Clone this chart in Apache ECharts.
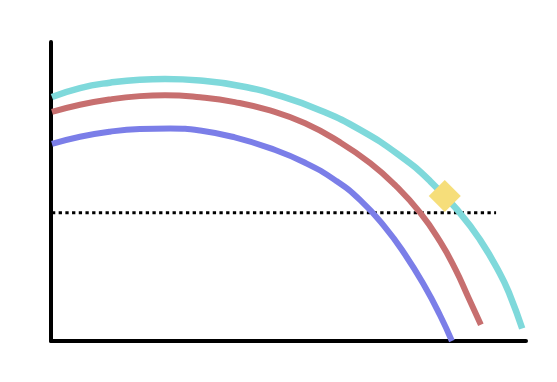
<!DOCTYPE html>
<html>
<head>
<meta charset="utf-8">
<script src="https://cdn.jsdelivr.net/npm/echarts@6/dist/echarts.min.js"></script>
<style>
html,body{margin:0;padding:0;background:#fff;}
#chart{width:557px;height:382px;}
</style>
</head>
<body>
<div id="chart"></div>
<script>
// Curve data (flow, head) in arbitrary units
var cyanCurve = [[0.2,81.6],[6.1,84.6],[12.4,86.4],[18.7,87.4],[24.0,87.6],[31.4,87.1],[39.8,85.3],[48.2,82.0],[56.6,77.2],[65.1,70.6],[73.5,61.9],[79.8,53.5],[86.1,42.8],[90.3,33.9],[94.5,22.6],[96.6,15.4],[99.2,4.2]];
var redCurve = [[0.2,76.6],[6.1,79.0],[12.4,80.8],[18.7,81.9],[24.0,82.2],[31.4,81.5],[38.7,79.9],[46.1,77.1],[53.5,72.8],[60.8,66.5],[67.2,59.5],[72.4,52.2],[77.7,42.9],[81.9,33.3],[85.1,24.1],[87.8,14.8],[90.5,5.4]];
var blueCurve = [[0.2,65.9],[6.1,68.3],[12.4,70.0],[18.7,70.9],[25.1,71.1],[31.4,70.4],[38.7,68.1],[46.1,64.5],[53.5,59.6],[59.8,53.8],[65.1,47.1],[70.3,38.1],[74.5,29.0],[78.7,18.2],[81.9,8.6],[84.4,0]];
var dottedLine = [[0.2,42.9],[93.7,42.9]];
var operatingPoint = [[82.9,48.5]];

var chart = echarts.init(document.getElementById('chart'), null, {renderer:'canvas'});
var lineSeries = function(data, color, width){
  return {type:'line', data:data, smooth:0.5, showSymbol:false, symbol:'none', clip:false,
    lineStyle:{color:color, width:width, cap:'butt'}, animation:false, silent:true};
};
chart.setOption({
  backgroundColor:'#ffffff',
  animation:false,
  grid:{left:51, right:31, top:42, bottom:41},
  xAxis:{type:'value', min:0, max:100, axisLine:{show:true, lineStyle:{color:'#000', width:4}}, axisTick:{show:false}, axisLabel:{show:false}, splitLine:{show:false}},
  yAxis:{type:'value', min:0, max:100, axisLine:{show:true, lineStyle:{color:'#000', width:4}}, axisTick:{show:false}, axisLabel:{show:false}, splitLine:{show:false}},
  series:[
    {type:'line', data:dottedLine, showSymbol:false, symbol:'none', clip:false, lineStyle:{color:'#000', width:3, type:[3.3,3.4]}, z:1, silent:true},
    Object.assign(lineSeries(blueCurve,'#7b7ee8',6),{z:2}),
    Object.assign(lineSeries(redCurve,'#c76f6f',6),{z:3}),
    Object.assign(lineSeries(cyanCurve,'#7fd9db',6.5),{z:4}),
    {type:'scatter', data:operatingPoint, symbol:'diamond', symbolSize:32, itemStyle:{color:'#f6de7a', opacity:1}, z:5, silent:true}
  ]
});
</script>
</body>
</html>
